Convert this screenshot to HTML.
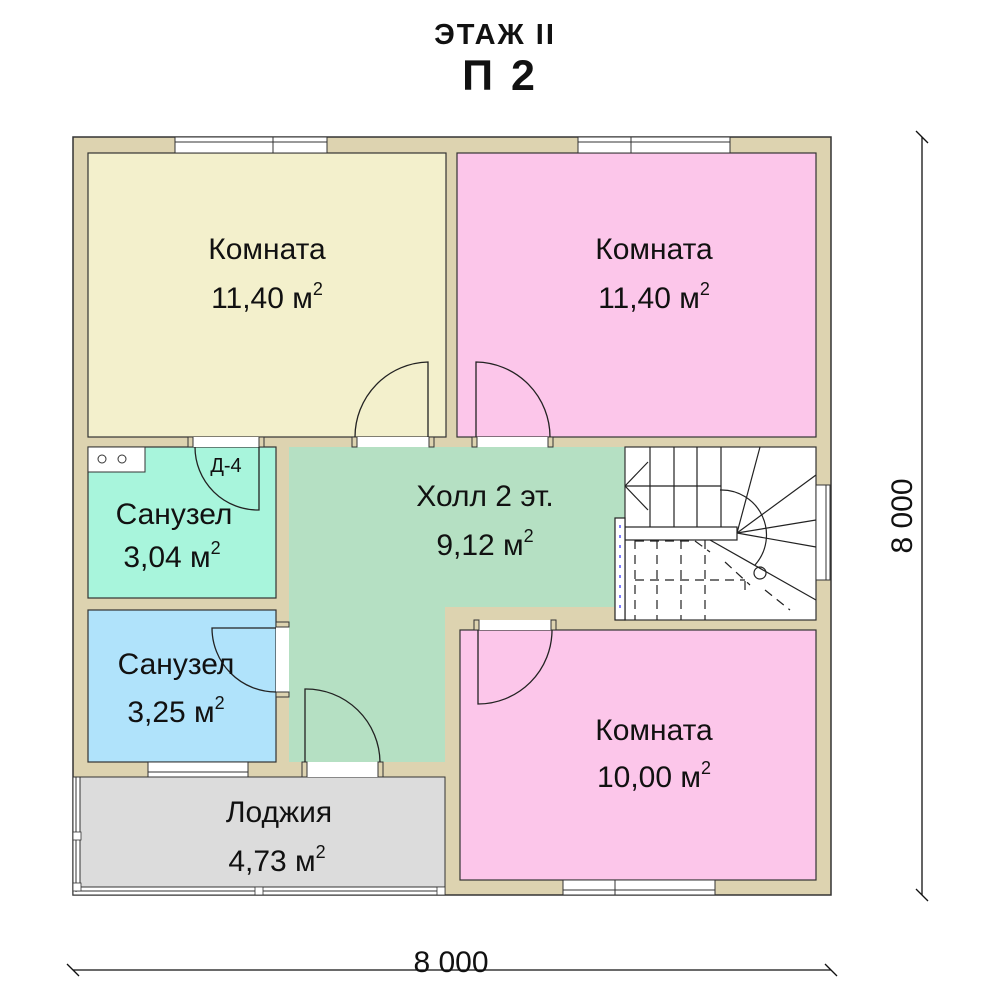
<!DOCTYPE html>
<html><head><meta charset="utf-8"><style>
body{margin:0;background:#fff}
svg{display:block}
text{font-family:"Liberation Sans",sans-serif;fill:#111}
</style></head><body>
<svg width="1000" height="1000" viewBox="0 0 1000 1000" xmlns="http://www.w3.org/2000/svg">
<text x="495" y="44" font-size="29" font-weight="bold" text-anchor="middle" letter-spacing="2">ЭТАЖ II</text>
<text x="500" y="90" font-size="43" font-weight="bold" text-anchor="middle" letter-spacing="3">П 2</text>

<rect x="73" y="137" width="758" height="758" fill="#ddd3b0" stroke="#333" stroke-width="1.5"/>
<rect x="73" y="777" width="372" height="118" fill="#fff" stroke="#333" stroke-width="1"/>
<rect x="80" y="777" width="365" height="110" fill="#dcdcdc" stroke="#333" stroke-width="1"/>
<line x1="76" y1="777" x2="76" y2="892" stroke="#333"/>
<line x1="76" y1="891" x2="445" y2="891" stroke="#333"/>
<rect x="73" y="883" width="8" height="8" fill="#fff" stroke="#333" stroke-width="0.8"/>
<rect x="73" y="832" width="8" height="8" fill="#fff" stroke="#333" stroke-width="0.8"/>
<rect x="255" y="887" width="8" height="8" fill="#fff" stroke="#333" stroke-width="0.8"/>
<rect x="437" y="887" width="8" height="8" fill="#fff" stroke="#333" stroke-width="0.8"/>

<rect x="88" y="153" width="358" height="284" fill="#f3f0cc" stroke="#333" stroke-width="1.2"/>
<rect x="457" y="153" width="359" height="284" fill="#fcc6ea" stroke="#333" stroke-width="1.2"/>
<path d="M289 447 H625 V607 H445 V762 H289 Z" fill="#b5e0c3"/>
<rect x="88" y="447" width="188" height="151" fill="#a8f5dc" stroke="#333" stroke-width="1.2"/>
<rect x="88" y="447" width="57" height="25" fill="#fff" stroke="#333" stroke-width="1"/>
<circle cx="102" cy="459" r="4" fill="none" stroke="#333"/>
<circle cx="122" cy="459" r="4" fill="none" stroke="#333"/>
<rect x="88" y="610" width="188" height="152" fill="#b0e3fb" stroke="#333" stroke-width="1.2"/>
<rect x="460" y="630" width="356" height="250" fill="#fcc6ea" stroke="#333" stroke-width="1.2"/>
<rect x="625" y="447" width="191" height="173" fill="#fff" stroke="#333" stroke-width="1.2"/>

<rect x="192" y="437" width="70" height="10" fill="#fff"/>
<rect x="355" y="437" width="75" height="10" fill="#fff"/>
<rect x="475" y="437" width="75" height="10" fill="#fff"/>
<rect x="476" y="620" width="76" height="10" fill="#fff"/>
<rect x="276" y="627" width="13" height="65" fill="#fff"/>
<rect x="303" y="762" width="77" height="15" fill="#fff"/>
<g fill="#ddd3b0" stroke="#333" stroke-width="1">
<rect x="188" y="437" width="5" height="10"/><rect x="259" y="437" width="5" height="10"/>
<rect x="352" y="437" width="5" height="10"/><rect x="429" y="437" width="5" height="10"/>
<rect x="472" y="437" width="5" height="10"/><rect x="548" y="437" width="5" height="10"/>
<rect x="474" y="620" width="5" height="10"/><rect x="551" y="620" width="5" height="10"/>
<rect x="302" y="762" width="5" height="15"/><rect x="378" y="762" width="5" height="15"/>
<rect x="276" y="622" width="13" height="5"/><rect x="276" y="692" width="13" height="5"/>
</g>
<g fill="none" stroke="#222" stroke-width="1.3">
<path d="M428 437 V362 A75 75 0 0 0 355 437"/>
<path d="M476 437 V362 A75 75 0 0 1 550 437"/>
<path d="M259 447 V510 A63 63 0 0 1 195 447"/>
<path d="M478 630 V704 A74 74 0 0 0 552 630"/>
<path d="M305 762 V689 A74 74 0 0 1 380 762"/>
<path d="M276 628 H212 A64 64 0 0 0 276 692"/>
</g>
<g fill="#fff" stroke="#333" stroke-width="1">
<rect x="175" y="137" width="152" height="16"/><line x1="175" y1="142" x2="327" y2="142"/><line x1="273" y1="137" x2="273" y2="153"/>
<rect x="578" y="137" width="152" height="16"/><line x1="578" y1="142" x2="730" y2="142"/><line x1="631" y1="137" x2="631" y2="153"/>
<rect x="563" y="880" width="152" height="15"/><line x1="563" y1="890" x2="715" y2="890"/><line x1="615" y1="880" x2="615" y2="895"/>
<rect x="148" y="762" width="100" height="15"/><line x1="148" y1="772" x2="248" y2="772"/>
<rect x="816" y="485" width="14" height="95"/><line x1="826" y1="485" x2="826" y2="580"/>
</g>
<g stroke="#222" stroke-width="1.2" fill="none">
<line x1="650" y1="447" x2="650" y2="527"/><line x1="674" y1="447" x2="674" y2="527"/>
<line x1="697" y1="447" x2="697" y2="527"/><line x1="721" y1="447" x2="721" y2="527"/>
<line x1="625" y1="486" x2="721" y2="486"/>
<path d="M625 486 L648 462 M625 486 L648 510"/>
<rect x="625" y="527" width="112" height="13" fill="#fff"/>
<line x1="737" y1="533" x2="760" y2="447"/><line x1="737" y1="533" x2="816" y2="475"/>
<line x1="737" y1="533" x2="816" y2="520"/><line x1="737" y1="533" x2="816" y2="547"/>
<line x1="710" y1="540" x2="816" y2="600"/>
<path d="M720 490 A45 45 0 0 1 755 565"/>
<circle cx="760" cy="573" r="6"/>
<rect x="615" y="518" width="10" height="102" fill="#fff"/>
<path d="M635 540 V620 M657 540 V620 M681 540 V620 M705 540 V620 M635 541 H695 L710 552 M635 580 H745" stroke-dasharray="9 6"/>
<path d="M725 562 L750 585 M745 590 L745 575 M765 590 L790 610" stroke-dasharray="9 6"/>
</g>
<g stroke="#55f" stroke-width="1.5"><line x1="620" y1="525" x2="620" y2="615" stroke-dasharray="3 7"/></g>

<g font-size="30" text-anchor="middle">
<text x="267" y="259">Комната</text><text x="267" y="308">11,40 м<tspan font-size="18" dy="-13">2</tspan></text>
<text x="654" y="259">Комната</text><text x="654" y="308">11,40 м<tspan font-size="18" dy="-13">2</tspan></text>
<text x="485" y="506">Холл 2 эт.</text><text x="485" y="555">9,12 м<tspan font-size="18" dy="-13">2</tspan></text>
<text x="174" y="524">Санузел</text><text x="172" y="567">3,04 м<tspan font-size="18" dy="-13">2</tspan></text>
<text x="176" y="674">Санузел</text><text x="176" y="722">3,25 м<tspan font-size="18" dy="-13">2</tspan></text>
<text x="279" y="822">Лоджия</text><text x="277" y="871">4,73 м<tspan font-size="18" dy="-13">2</tspan></text>
<text x="654" y="740">Комната</text><text x="654" y="787">10,00 м<tspan font-size="18" dy="-13">2</tspan></text>
</g>
<text x="226" y="472" font-size="20" text-anchor="middle">Д-4</text>

<g stroke="#111" stroke-width="1.3">
<line x1="922" y1="137" x2="922" y2="895"/>
<line x1="916" y1="131" x2="928" y2="143"/><line x1="916" y1="889" x2="928" y2="901"/>
<line x1="73" y1="970" x2="831" y2="970"/>
<line x1="67" y1="964" x2="79" y2="976"/><line x1="825" y1="964" x2="837" y2="976"/>
</g>
<text x="451" y="972" font-size="30" text-anchor="middle">8 000</text>
<text x="0" y="0" font-size="30" text-anchor="middle" transform="translate(912,516) rotate(-90)">8 000</text>
</svg>
</body></html>
